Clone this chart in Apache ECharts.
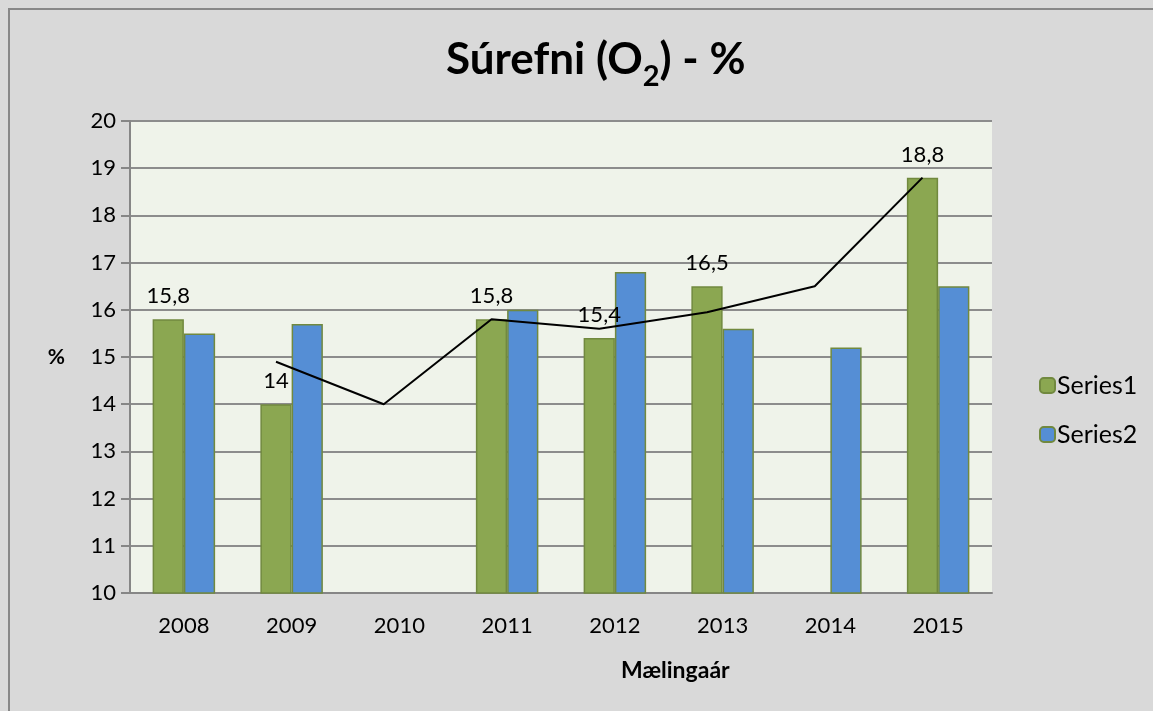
<!DOCTYPE html>
<html>
<head>
<meta charset="utf-8">
<script src="https://cdn.jsdelivr.net/npm/echarts@6/dist/echarts.min.js"></script>
<style>
  html, body { margin: 0; padding: 0; background: #d9d9d9; }
  #chart { width: 1153px; height: 711px; }
</style>
</head>
<body>
<div id="chart"></div>
<script>
var years = ['2008', '2009', '2010', '2011', '2012', '2013', '2014', '2015'];
var series1 = [15.8, 14, null, 15.8, 15.4, 16.5, null, 18.8];
var series2 = [15.5, 15.7, null, 16.0, 16.8, 15.6, 15.2, 16.5];
// 2-period moving average line of Series1, as drawn
var trend = [null, 14.9, 14.0, 15.8, 15.6, 15.95, 16.5, 18.8];
var yTicks = [10, 11, 12, 13, 14, 15, 16, 17, 18, 19, 20];

var fontFam = 'Lato, "Open Sans", sans-serif';
var barPct = 0.29;

var trendData = [];
for (var i = 0; i < trend.length; i++) {
    if (trend[i] != null) trendData.push([i - barPct / 2, trend[i]]);
}

var option = {
    backgroundColor: '#d9d9d9',
    animation: false,
    textStyle: { fontFamily: fontFam },
    title: {
        text: '{a|Súrefni (O}{s|2}{a|) - %}',
        left: 441,
        top: 23,
        textStyle: {
            rich: {
                a: { fontSize: 44, fontWeight: 'bold', color: '#000', fontFamily: fontFam },
                s: { fontSize: 29, fontWeight: 'bold', color: '#000', fontFamily: fontFam, verticalAlign: 'bottom', padding: [34, 0, 0, 0] }
            }
        }
    },
    graphic: [
        {
            type: 'rect', z: -1, silent: true,
            shape: { x: 9, y: 9, width: 1200, height: 800 },
            style: { fill: '#d9d9d9', stroke: '#878787', lineWidth: 2 }
        },
        {
            type: 'text', left: 621, top: 659,
            style: { text: 'Mælingaár', fontSize: 23, fontWeight: 'bold', fill: '#000', fontFamily: fontFam }
        }
    ],
    legend: {
        data: ['Series1', 'Series2'],
        orient: 'vertical',
        left: 1034,
        top: 368,
        itemWidth: 15,
        itemHeight: 15,
        itemGap: 24,
        textStyle: { fontSize: 25, color: '#000', fontFamily: fontFam, padding: [0, 0, 0, -3] }
    },
    grid: {
        left: 130, right: 161, top: 121, bottom: 118,
        show: true, backgroundColor: '#eff3ea', borderWidth: 0
    },
    xAxis: [
        {
            type: 'category',
            data: years,
            axisLine: { lineStyle: { color: '#868686', width: 2 } },
            axisTick: { show: false },
            axisLabel: { fontSize: 22, color: '#000', margin: 22, fontFamily: fontFam }
        },
        {
            type: 'value', min: -0.5, max: 7.5, show: false
        }
    ],
    yAxis: {
        type: 'value',
        min: yTicks[0],
        max: yTicks[yTicks.length - 1],
        interval: 1,
        name: '%',
        nameLocation: 'middle',
        nameRotate: 0,
        nameGap: 65,
        nameTextStyle: { fontSize: 21, fontWeight: 'bold', color: '#000', fontFamily: fontFam },
        axisLine: { show: true, onZero: false, lineStyle: { color: '#868686', width: 2 } },
        axisTick: { show: true, length: 9, lineStyle: { color: '#868686', width: 2 } },
        axisLabel: { fontSize: 22, color: '#000', margin: 14, fontFamily: fontFam },
        splitLine: { lineStyle: { color: '#8c8c8c', width: 2 } }
    },
    series: [
        {
            name: 'Series1',
            type: 'bar',
            data: series1,
            barWidth: (barPct * 100) + '%',
            barGap: '0%',
            itemStyle: { color: '#8ba751', borderColor: '#71893f', borderWidth: 1.5 },
            label: {
                show: true, position: 'top', distance: 12,
                fontSize: 22, color: '#000', fontFamily: fontFam,
                formatter: function (p) { return String(p.value).replace('.', ','); }
            }
        },
        {
            name: 'Series2',
            type: 'bar',
            data: series2,
            barWidth: (barPct * 100) + '%',
            barGap: '0%',
            itemStyle: { color: '#558ed5', borderColor: '#71893f', borderWidth: 1.5 }
        },
        {
            name: 'Trend',
            type: 'line',
            xAxisIndex: 1,
            data: trendData,
            symbol: 'none',
            lineStyle: { color: '#000', width: 2 },
            z: 5
        }
    ]
};

var myChart = echarts.init(document.getElementById('chart'));
myChart.setOption(option);
</script>
</body>
</html>
